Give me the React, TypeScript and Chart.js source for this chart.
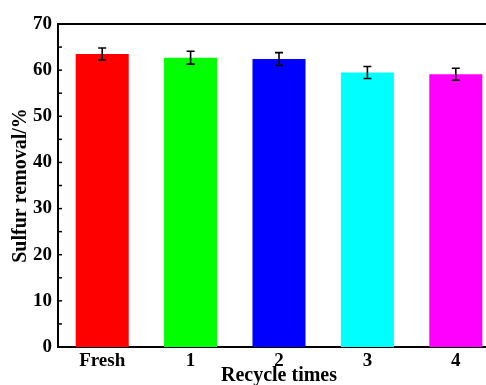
import React, { useEffect, useRef } from "react";
import { Chart, registerables } from "chart.js";

Chart.register(...registerables);

const categories = ["Fresh", "1", "2", "3", "4"];
const removal = [63.5, 62.7, 62.4, 59.5, 59.1];
const errors = [1.3, 1.4, 1.4, 1.3, 1.3];
const barColors = ["#FF0000", "#00FF00", "#0000FF", "#00FFFF", "#FF00FF"];
const yMajorTicks = [0, 10, 20, 30, 40, 50, 60, 70];
const yMinorTicks = [5, 15, 25, 35, 45, 55, 65];

const FONT = "'Liberation Serif', 'Times New Roman', serif";

const decorPlugin = {
  id: "decor",
  afterDatasetsDraw(chart: any) {
    const { ctx, chartArea, scales } = chart;
    const x = scales.x;
    const y = scales.y;
    ctx.save();
    // error bars
    ctx.strokeStyle = "#000";
    ctx.lineWidth = 1.6;
    removal.forEach((v, i) => {
      const px = x.getPixelForValue(i);
      const top = y.getPixelForValue(v + errors[i]);
      const bot = y.getPixelForValue(v - errors[i]);
      ctx.beginPath();
      ctx.moveTo(px, top);
      ctx.lineTo(px, bot);
      ctx.moveTo(px - 4, top);
      ctx.lineTo(px + 4, top);
      ctx.moveTo(px - 4, bot);
      ctx.lineTo(px + 4, bot);
      ctx.stroke();
    });
    // top frame line
    ctx.lineWidth = 2;
    ctx.beginPath();
    ctx.moveTo(chartArea.left - 1, chartArea.top);
    ctx.lineTo(chartArea.right, chartArea.top);
    ctx.stroke();
    // inward ticks
    ctx.lineWidth = 1.5;
    [...yMajorTicks, ...yMinorTicks].forEach((t) => {
      const py = y.getPixelForValue(t);
      ctx.beginPath();
      ctx.moveTo(chartArea.left, py);
      ctx.lineTo(chartArea.left + 4, py);
      ctx.stroke();
    });
    ctx.restore();
  },
};

export default function App() {
  const ref = useRef<HTMLCanvasElement>(null);
  useEffect(() => {
    if (!ref.current) return;
    const chart = new Chart(ref.current, {
      type: "bar",
      data: {
        labels: categories,
        datasets: [
          {
            data: removal,
            backgroundColor: barColors,
            borderWidth: 0,
            categoryPercentage: 0.6,
            barPercentage: 1,
          },
        ],
      },
      options: {
        responsive: false,
        animation: false,
        layout: { padding: { top: 24, right: 20, left: 0, bottom: 0 } },
        plugins: { legend: { display: false }, tooltip: { enabled: false } },
        scales: {
          x: {
            offset: true,
            grid: { display: false, drawTicks: false },
            border: { display: true, color: "#000", width: 2 },
            ticks: {
              color: "#000",
              padding: 3,
              font: { family: FONT, size: 19, weight: "bold" },
            },
            title: {
              display: true,
              text: "Recycle times",
              color: "#000",
              padding: { top: 0, bottom: 12 },
              font: { family: FONT, size: 20, weight: "bold" },
            },
            afterFit: (s: any) => {
              s.height = 53;
            },
          },
          y: {
            min: 0,
            max: 70,
            grid: { display: false, drawTicks: false },
            border: { display: true, color: "#000", width: 2 },
            ticks: {
              stepSize: 10,
              color: "#000",
              padding: 6,
              font: { family: FONT, size: 19, weight: "bold" },
            },
            title: {
              display: true,
              text: "Sulfur removal/%",
              color: "#000",
              padding: { top: 8.5, bottom: 0 },
              font: { family: FONT, size: 20, weight: "bold" },
            },
            afterFit: (s: any) => {
              s.width = 58;
            },
          },
        },
      },
      plugins: [decorPlugin],
    });
    return () => chart.destroy();
  }, []);
  return (
    <div
      style={{
        position: "fixed",
        left: 0,
        top: 0,
        width: 486,
        height: 385,
        overflow: "hidden",
        background: "#fff",
      }}
    >
      <canvas ref={ref} width={520} height={400} style={{ display: "block" }} />
    </div>
  );
}
